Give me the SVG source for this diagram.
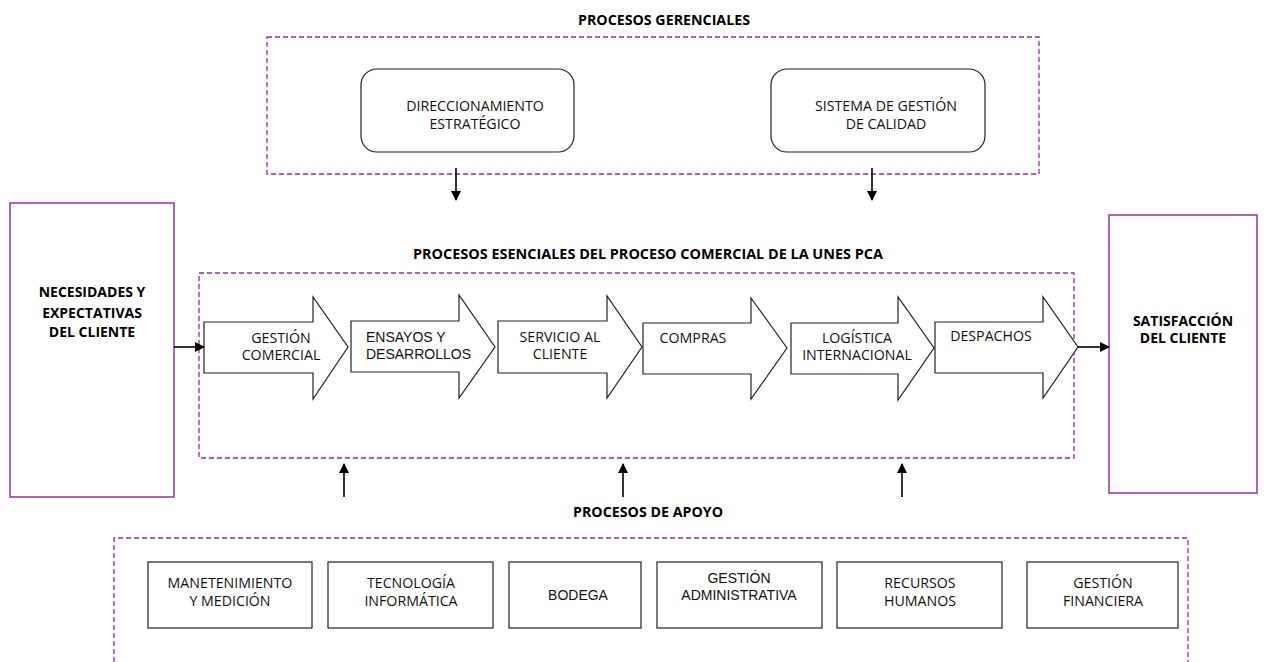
<svg xmlns="http://www.w3.org/2000/svg" width="1264" height="662" viewBox="0 0 1264 662">
<style>
.bg{fill:#ffffff}
.dash{fill:none;stroke:#9a2a9e;stroke-width:1.3;stroke-dasharray:5,3}
.solid{fill:#ffffff;stroke:#9c3fa6;stroke-width:1.6}
.box{fill:#ffffff;stroke:#222222;stroke-width:1.2}
.blk{fill:#ffffff;stroke:#222222;stroke-width:1.2;stroke-linejoin:miter}
.h{font-family:"Open Sans","Noto Sans",sans-serif;font-size:14.2px;fill:#111111;text-anchor:middle}
.a{font-family:"Liberation Sans",Arial,sans-serif;font-size:14px;fill:#111111;text-anchor:middle}
.s{text-anchor:start}
.t{font-family:"Open Sans","Noto Sans",sans-serif;font-size:14px;font-weight:bold;fill:#000000;text-anchor:middle}
.con{stroke:#000000;stroke-width:1.6;fill:none}
</style>
<defs>
<marker id="ah" markerWidth="10" markerHeight="10" refX="9" refY="5" orient="auto" markerUnits="userSpaceOnUse">
<path d="M0,0 L10,5 L0,10 Z" fill="#000000"/>
</marker>
</defs>
<rect class="bg" x="0" y="0" width="1264" height="662"/>

<g id="gerenciales">
<text class="t" x="664" y="25" textLength="172" lengthAdjust="spacingAndGlyphs">PROCESOS GERENCIALES</text>
<rect class="dash" x="267" y="37" width="772" height="137"/>
</g>
<g id="direccionamiento">
<rect class="box" x="361" y="69" width="213" height="83" rx="16" ry="16"/>
<text class="h" x="475" y="111">DIRECCIONAMIENTO</text>
<text class="h" x="475" y="129">ESTRATÉGICO</text>
</g>
<g id="sistema">
<rect class="box" x="771" y="69" width="214" height="83" rx="16" ry="16"/>
<text class="h" x="886" y="111">SISTEMA DE GESTIÓN</text>
<text class="h" x="886" y="129">DE CALIDAD</text>
</g>

<g id="necesidades">
<rect class="solid" x="10" y="203" width="164" height="294"/>
<text class="t" x="92" y="297">NECESIDADES Y</text>
<text class="t" x="92" y="318">EXPECTATIVAS</text>
<text class="t" x="92" y="337">DEL CLIENTE</text>
</g>

<g id="satisfaccion">
<rect class="solid" x="1109" y="215" width="148" height="278"/>
<text class="t" x="1183" y="326">SATISFACCIÓN</text>
<text class="t" x="1183" y="343">DEL CLIENTE</text>
</g>

<g id="esenciales">
<text class="t" x="648" y="259" textLength="470" lengthAdjust="spacingAndGlyphs">PROCESOS ESENCIALES DEL PROCESO COMERCIAL DE LA UNES PCA</text>
<rect class="dash" x="199" y="273" width="875" height="185"/>
</g>

<g id="gestion-comercial">
<polygon class="blk" points="204,322 313,322 313,297 348,347 313,399 313,373 204,373"/>
<text class="h" x="281" y="343">GESTIÓN</text>
<text class="h" x="281" y="360">COMERCIAL</text>
</g>
<g id="ensayos">
<polygon class="blk" points="351,321 459,321 459,295 495,347 459,398 459,372 351,372"/>
<text class="a s" x="366" y="342">ENSAYOS Y</text>
<text class="a s" x="366" y="359">DESARROLLOS</text>
</g>
<g id="servicio">
<polygon class="blk" points="498,321 607,321 607,296 642,347 607,398 607,373 498,373"/>
<text class="h" x="560" y="342">SERVICIO AL</text>
<text class="h" x="560" y="359">CLIENTE</text>
</g>
<g id="compras">
<polygon class="blk" points="643,323 751,323 751,298 787,348 751,399 751,374 643,374"/>
<text class="h" x="693" y="343">COMPRAS</text>
</g>
<g id="logistica">
<polygon class="blk" points="791,323 898,323 898,297 934,348 898,400 898,374 791,374"/>
<text class="h" x="857" y="343">LOGÍSTICA</text>
<text class="h" x="857" y="360">INTERNACIONAL</text>
</g>
<g id="despachos">
<polygon class="blk" points="935,322 1043,322 1043,297 1078,347 1043,398 1043,373 935,373"/>
<text class="h" x="991" y="341">DESPACHOS</text>
</g>

<g id="apoyo">
<text class="t" x="648" y="517" textLength="150" lengthAdjust="spacingAndGlyphs">PROCESOS DE APOYO</text>
<path class="dash" d="M114,662 V538 H1188 V662"/>
</g>
<g id="mantenimiento">
<rect class="box" x="148" y="562" width="164" height="66"/>
<text class="h" x="230" y="588">MANETENIMIENTO</text>
<text class="h" x="230" y="606">Y MEDICIÓN</text>
</g>
<g id="tecnologia">
<rect class="box" x="328" y="562" width="165" height="66"/>
<text class="h" x="411" y="588">TECNOLOGÍA</text>
<text class="h" x="411" y="606">INFORMÁTICA</text>
</g>
<g id="bodega">
<rect class="box" x="509" y="562" width="132" height="66"/>
<text class="a" x="578" y="600">BODEGA</text>
</g>
<g id="administrativa">
<rect class="box" x="657" y="562" width="165" height="66"/>
<text class="a" x="739" y="583">GESTIÓN</text>
<text class="a" x="739" y="600">ADMINISTRATIVA</text>
</g>
<g id="recursos">
<rect class="box" x="837" y="562" width="165" height="66"/>
<text class="h" x="920" y="588">RECURSOS</text>
<text class="h" x="920" y="606">HUMANOS</text>
</g>
<g id="financiera">
<rect class="box" x="1027" y="562" width="151" height="66"/>
<text class="h" x="1103" y="588">GESTIÓN</text>
<text class="h" x="1103" y="606">FINANCIERA</text>
</g>

<g id="connectors">
<line class="con" x1="456" y1="168" x2="456" y2="200" marker-end="url(#ah)"/>
<line class="con" x1="872" y1="168" x2="872" y2="200" marker-end="url(#ah)"/>
<line class="con" x1="174" y1="347" x2="204" y2="347" marker-end="url(#ah)"/>
<line class="con" x1="1078" y1="347" x2="1109" y2="347" marker-end="url(#ah)"/>
<line class="con" x1="344" y1="497" x2="344" y2="464" marker-end="url(#ah)"/>
<line class="con" x1="623" y1="497" x2="623" y2="464" marker-end="url(#ah)"/>
<line class="con" x1="902" y1="497" x2="902" y2="464" marker-end="url(#ah)"/>
</g>
</svg>
